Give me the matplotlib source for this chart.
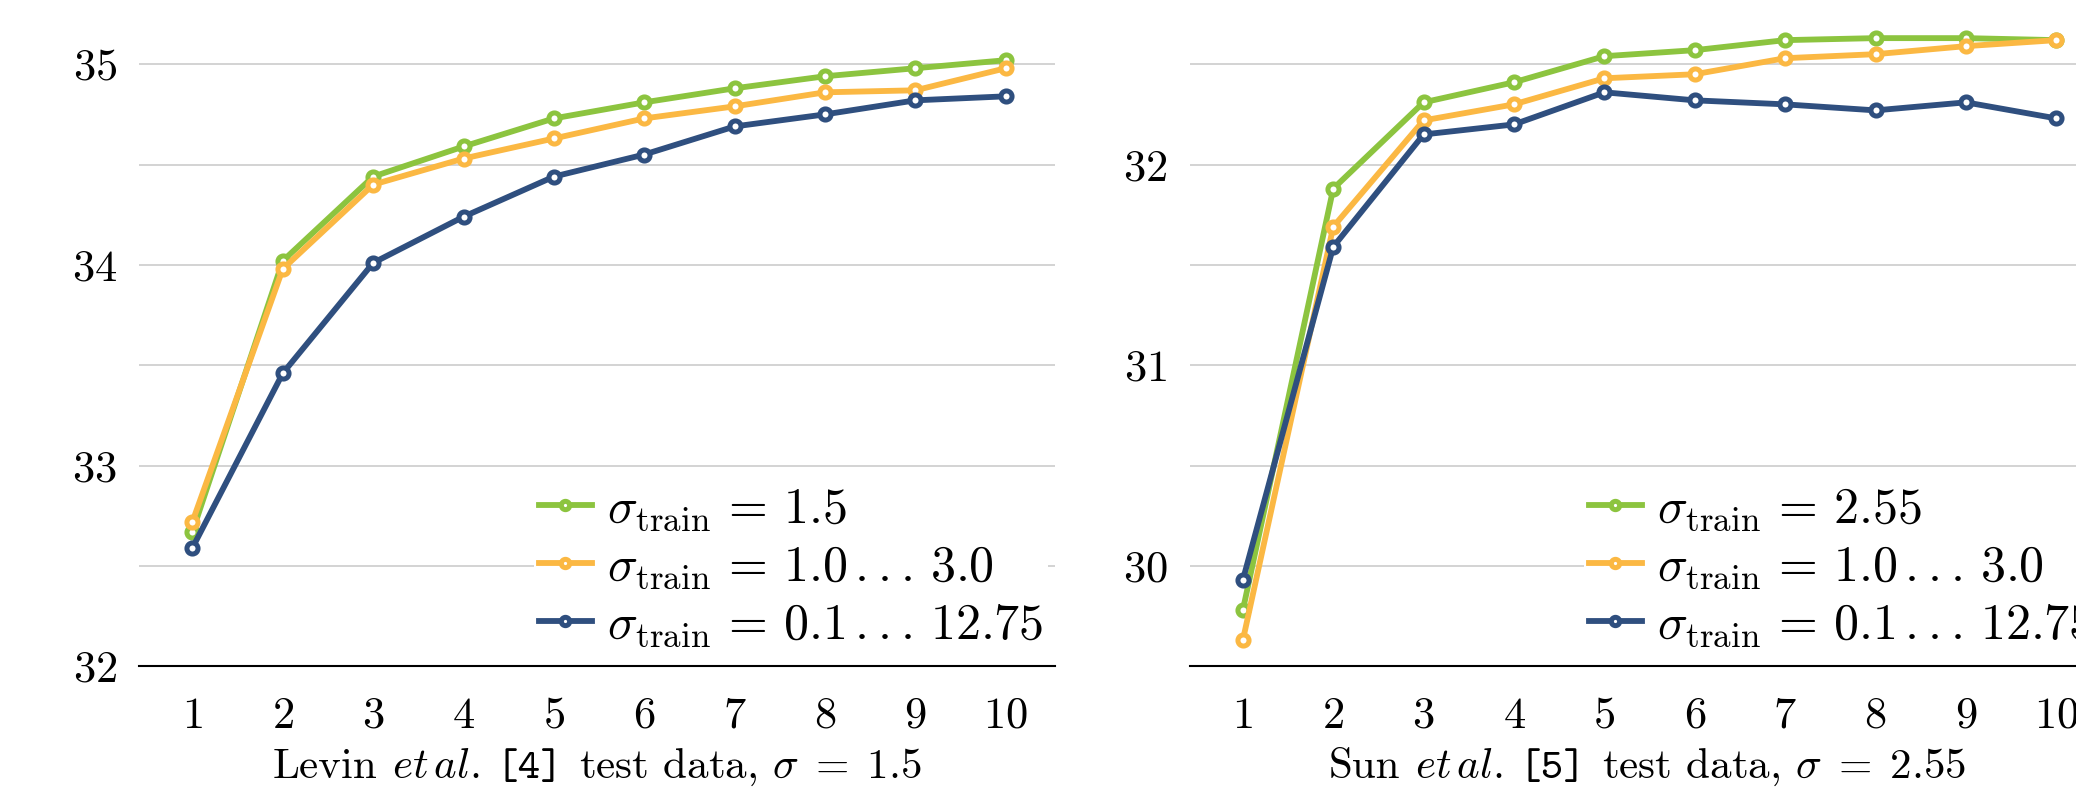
import numpy as np
from matplotlib import pyplot as plt
from matplotlib.ticker import MultipleLocator
from matplotlib.offsetbox import TextArea, HPacker, AnchoredOffsetbox

plt.rcParams['font.family'] = 'serif'
plt.rcParams['font.serif'] = ['cmr10']
plt.rcParams['mathtext.fontset'] = 'cm'
plt.rcParams['axes.formatter.use_mathtext'] = True

# =============================================================================
# data
# =============================================================================
stages = [1, 2, 3, 4, 5, 6, 7, 8, 9, 10]

levin_15 = [32.67, 34.02, 34.44, 34.59, 34.73, 34.81, 34.88, 34.94, 34.98, 35.02]
levin_1_3 = [32.72, 33.98, 34.40, 34.53, 34.63, 34.73, 34.79, 34.86, 34.87, 34.98]
levin_all = [32.59, 33.46, 34.01, 34.24, 34.44, 34.55, 34.69, 34.75, 34.82, 34.84]

sun_255 = [29.78, 31.88, 32.31, 32.41, 32.54, 32.57, 32.62, 32.63, 32.63, 32.62]
sun_1_3 = [29.63, 31.69, 32.22, 32.30, 32.43, 32.45, 32.53, 32.55, 32.59, 32.62]
sun_all = [29.93, 31.59, 32.15, 32.20, 32.36, 32.32, 32.30, 32.27, 32.31, 32.23]

levin_labels = [r'$\sigma_{\mathrm{train}}\,=\,1.5$',
                r'$\sigma_{\mathrm{train}}\,=\,1.0\,...\,3.0$',
                r'$\sigma_{\mathrm{train}}\,=\,0.1\,...\,12.75$']
sun_labels = [r'$\sigma_{\mathrm{train}}\,=\,2.55$',
              r'$\sigma_{\mathrm{train}}\,=\,1.0\,...\,3.0$',
              r'$\sigma_{\mathrm{train}}\,=\,0.1\,...\,12.75$']

levin_xlabel = ['Levin', r'$\mathit{et\,al.}$', '[4]', r'test data, $\sigma\;=\;1.5$']
sun_xlabel = ['Sun', r'$\mathit{et\,al.}$', '[5]', r'test data, $\sigma\;=\;2.55$']

green = '#8cc43f'
orange = '#fbb843'
blue = '#2f4f7f'

# =============================================================================
# plot
# =============================================================================

def panel(ax, series, labels, ylim, yticks, xlabel, leg_x):
    for y, lab, c in zip(series, labels, [green, orange, blue]):
        ax.plot(stages, y, color=c, lw=4.2, marker='o', ms=8,
                mfc='white', mec=c, mew=3.6, label=lab)
    ax.set_xlim(0.41, 10.54)
    ax.set_ylim(*ylim)
    ax.set_xticks(stages)
    ax.set_yticks(yticks)
    ax.yaxis.set_minor_locator(MultipleLocator(0.5))
    ax.grid(axis='y', which='both', color='#c8c8c8', lw=1.1)
    ax.set_axisbelow(True)
    for s in ['top', 'left', 'right']:
        ax.spines[s].set_visible(False)
    ax.spines['bottom'].set_linewidth(1.5)
    ax.tick_params(length=0, which='both', labelsize=32)
    ax.tick_params(axis='x', pad=22)
    ax.tick_params(axis='y', pad=16)

    # x label: roman, italic, typewriter pieces
    parts = [TextArea(xlabel[0], textprops=dict(fontsize=31)),
             TextArea(xlabel[1], textprops=dict(fontsize=31)),
             TextArea(xlabel[2], textprops=dict(fontsize=31, family='cmtt10')),
             TextArea(xlabel[3], textprops=dict(fontsize=31))]
    box = HPacker(children=parts, align='baseline', pad=0, sep=11)
    pos = ax.get_position()
    lab = AnchoredOffsetbox(loc='center', child=box, pad=0, borderpad=0,
                            frameon=False,
                            bbox_to_anchor=(pos.x0 + pos.width / 2, 0.036),
                            bbox_transform=fig.transFigure)
    fig.add_artist(lab)

    ax.legend(loc='lower left', bbox_to_anchor=(leg_x, 0.178),
              bbox_transform=fig.transFigure, fontsize=36,
              frameon=True, facecolor='white', edgecolor='none',
              framealpha=1, borderpad=0.1, borderaxespad=0,
              handlelength=1.06, handletextpad=0.3, labelspacing=0.23,
              markerscale=0.75)


fig = plt.figure(figsize=(20.76, 7.96), dpi=100)
ax1 = fig.add_axes([0.067, 0.163, 0.441, 0.837])
ax2 = fig.add_axes([0.573, 0.163, 0.441, 0.837])

panel(ax1, [levin_15, levin_1_3, levin_all], levin_labels, (32, 35.32),
      [32, 33, 34, 35], levin_xlabel, 0.257)
panel(ax2, [sun_255, sun_1_3, sun_all], sun_labels, (29.5, 32.82),
      [30, 31, 32], sun_xlabel, 0.763)

plt.savefig('out.png', dpi=100)
